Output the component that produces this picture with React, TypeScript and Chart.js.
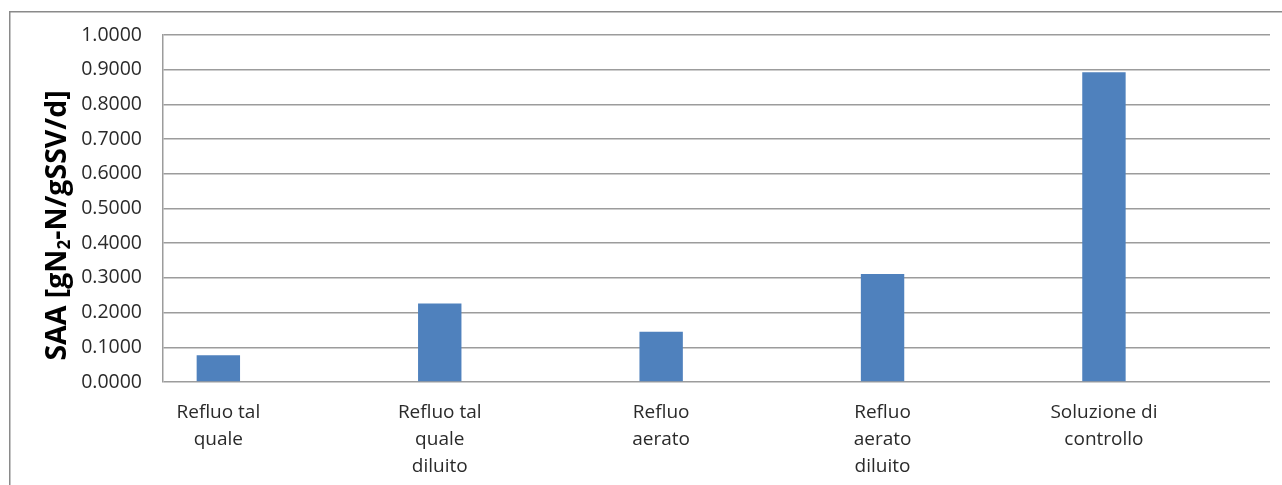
import React, { useEffect, useRef } from "react";
import { Chart, registerables } from "chart.js";

Chart.register(...registerables);

// Sample categories (multi-line axis labels) and measured SAA values
const categoryLabels: string[][] = [
  ["Refluo tal", "quale"],
  ["Refluo tal", "quale", "diluito"],
  ["Refluo", "aerato"],
  ["Refluo", "aerato", "diluito"],
  ["Soluzione di", "controllo"],
];
const saaValues: number[] = [0.077, 0.226, 0.145, 0.311, 0.893];
const yTickValues: number[] = [0, 0.1, 0.2, 0.3, 0.4, 0.5, 0.6, 0.7, 0.8, 0.9, 1.0];

const FONT = "'Open Sans', 'Noto Sans', sans-serif";
const TEXT_COLOR = "#2a2a2a";
const GRID_COLOR = "#9c9c9c";
const BAR_COLOR = "#4f81bd";

// Outer frame of the chart object (left and top edges)
const framePlugin = {
  id: "frame",
  beforeDraw(chart: Chart) {
    const { ctx, width, height } = chart;
    ctx.save();
    ctx.strokeStyle = "#8a8a8a";
    ctx.lineWidth = 1.5;
    ctx.beginPath();
    ctx.moveTo(9.75, height);
    ctx.lineTo(9.75, 11.75);
    ctx.lineTo(width, 11.75);
    ctx.stroke();
    ctx.restore();
  },
};

// Rotated y-axis title with a subscript "2"
const yTitlePlugin = {
  id: "yTitle",
  afterDraw(chart: Chart) {
    const { ctx, chartArea } = chart;
    const parts = [
      { text: "SAA [gN", size: 28.5, dy: 0 },
      { text: "2", size: 17, dy: 4 },
      { text: "-N/gSSV/d]", size: 28.5, dy: 0 },
    ];
    ctx.save();
    let total = 0;
    const widths = parts.map((p) => {
      ctx.font = `bold ${p.size}px ${FONT}`;
      const w = ctx.measureText(p.text).width;
      total += w;
      return w;
    });
    const cy = chartArea.top + (chartArea.bottom - chartArea.top) * 0.549;
    ctx.translate(66, cy);
    ctx.rotate(-Math.PI / 2);
    ctx.fillStyle = "#000000";
    ctx.textBaseline = "alphabetic";
    ctx.textAlign = "left";
    let x = -total / 2;
    parts.forEach((p, i) => {
      ctx.font = `bold ${p.size}px ${FONT}`;
      ctx.fillText(p.text, x, p.dy);
      x += widths[i];
    });
    ctx.restore();
  },
};

export default function App() {
  const canvasRef = useRef<HTMLCanvasElement | null>(null);

  useEffect(() => {
    const canvas = canvasRef.current;
    if (!canvas) return;
    const chart = new Chart(canvas, {
      type: "bar",
      data: {
        datasets: [
          {
            label: "SAA",
            data: saaValues.map((v, i) => ({ x: i, y: v })),
            backgroundColor: BAR_COLOR,
            borderWidth: 0,
            categoryPercentage: 1,
            barPercentage: 0.196,
          },
        ],
      },
      options: {
        animation: false,
        responsive: false,
        devicePixelRatio: 1,
        layout: { padding: { left: 0, right: 12, top: 35, bottom: 0 } },
        plugins: {
          legend: { display: false },
          tooltip: { enabled: false },
        },
        scales: {
          x: {
            type: "linear",
            min: -0.25,
            max: 4.75,
            offset: false,
            grid: { display: false, drawTicks: false },
            border: { display: false },
            afterBuildTicks: (scale: any) => {
              scale.ticks = categoryLabels.map((_, i) => ({ value: i }));
            },
            afterFit: (scale: any) => {
              scale.height = 103;
            },
            ticks: {
              autoSkip: false,
              maxRotation: 0,
              minRotation: 0,
              padding: 17,
              color: TEXT_COLOR,
              font: { family: FONT, size: 19, lineHeight: 1.42 },
              callback: (value: any) => categoryLabels[Math.round(Number(value))] ?? "",
            },
          },
          y: {
            type: "linear",
            min: 0,
            max: 1,
            afterBuildTicks: (scale: any) => {
              scale.ticks = yTickValues.map((v) => ({ value: v }));
            },
            afterFit: (scale: any) => {
              scale.width = 163;
            },
            grid: { color: GRID_COLOR, lineWidth: 1.5, drawTicks: false },
            border: { display: true, color: GRID_COLOR, width: 1.5 },
            ticks: {
              padding: 21,
              color: TEXT_COLOR,
              font: { family: FONT, size: 19.5 },
              callback: (value: any) => Number(value).toFixed(4),
            },
          },
        },
      },
      plugins: [framePlugin, yTitlePlugin],
    });
    return () => chart.destroy();
  }, []);

  return (
    <div
      style={{
        position: "fixed",
        left: 0,
        top: 0,
        width: 1282,
        height: 485,
        overflow: "hidden",
        background: "#ffffff",
      }}
    >
      <canvas ref={canvasRef} width={1282} height={485} style={{ display: "block" }} />
    </div>
  );
}
